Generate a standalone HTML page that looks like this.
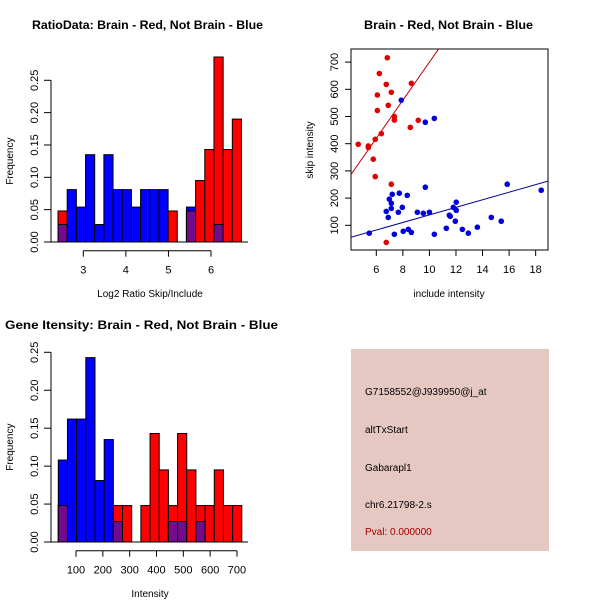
<!DOCTYPE html>
<html><head><meta charset="utf-8"><style>
body{margin:0;background:#fff}
svg{display:block;font-family:"Liberation Sans",sans-serif}
</style></head><body>
<svg id="c" width="600" height="600" viewBox="0 0 600 600"></svg>
<script>
// Panel 1: ratio histogram
const ratioBinStart = 2.406, ratioBinWidth = 0.2155;
const ratioRed  = [0.048,0,0,0,0,0,0,0,0,0,0,0,0.048,0,0.048,0.095,0.143,0.286,0.143,0.19];
const ratioBlue = [0.027,0.081,0.054,0.135,0.027,0.135,0.081,0.081,0.054,0.081,0.081,0.081,0,0,0.054,0,0,0.027,0,0];
const ratioXTicks = [3,4,5,6];
const freqTicks1 = ["0.00","0.05","0.10","0.15","0.20","0.25"];
// Panel 3: intensity histogram
const intBinStart = 34, intBinWidth = 34.2;
const intRed  = [0.048,0,0,0,0,0,0.048,0.048,0,0.048,0.143,0.095,0.048,0.143,0.095,0.048,0.048,0.095,0.048,0.048];
const intBlue = [0.108,0.162,0.162,0.243,0.081,0.135,0.027,0,0,0,0,0,0.027,0.027,0,0.027,0,0,0,0];
const intXTicks = [100,200,300,400,500,600,700];
const freqTicks3 = ["0.00","0.05","0.10","0.15","0.20","0.25"];
// Panel 2: scatter
const redX = [4.64,5.40,5.40,5.77,5.92,6.08,6.08,6.23,5.92,6.38,6.75,6.83,6.90,7.13,7.13,6.75,7.36,7.36,8.64,8.56,9.16];
const redY = [398,392,386,343,279,579,522,658,416,437,618,716,541,589,251,37,500,487,622,460,486];
const blueX = [7.88,9.69,10.37,9.69,5.47,6.75,6.90,6.98,7.13,7.20,7.13,7.36,7.66,7.73,7.96,8.03,8.33,8.41,8.64,9.09,9.54,10.0,10.37,11.27,11.50,11.57,11.80,11.95,12.02,12.02,12.48,12.93,13.61,14.66,15.41,15.86,18.42];
const blueY = [560,479,493,240,71,151,129,196,181,214,162,67,148,218,166,78,210,85,74,148,144,148,67,89,137,133,166,115,185,155,85,71,93,129,115,251,229];
const redFit = [0, 70];
const blueFit = [-0.8, 13.9];
const scatXTicks = [6,8,10,12,14,16,18];
const scatYTicks = [100,200,300,400,500,600,700];

const svg = document.getElementById('c');
const NS = 'http://www.w3.org/2000/svg';
function mk(tag, attrs, parent){const e=document.createElementNS(NS,tag);for(const k in attrs)e.setAttribute(k,attrs[k]);(parent||svg).appendChild(e);return e;}
function txt(s, attrs, parent){const e=mk('text',attrs,parent);e.textContent=s;return e;}

function hist(g, red, blue, binStart, binW, xs, fy, xTicks, yTicks, yTickVals, baseY, axisY, xlab, xlabY, ylabX){
  for(let i=0;i<red.length;i++){
    const x0=xs(binStart+i*binW), x1=xs(binStart+(i+1)*binW);
    if(red[i]>0){const r=mk('rect',{x:x0,y:fy(red[i]),width:x1-x0,height:baseY-fy(red[i]),fill:'#ff0000',stroke:'#000','stroke-width':1},g);
      }
    if(blue[i]>0){const b=mk('rect',{x:x0,y:fy(blue[i]),width:x1-x0,height:baseY-fy(blue[i]),fill:'#0000ff',stroke:'#000','stroke-width':1},g);
      }
    if(red[i]>0&&blue[i]>0){const m=Math.min(red[i],blue[i]);const p=mk('rect',{x:x0,y:fy(m),width:x1-x0,height:baseY-fy(m),fill:'#740a8c',stroke:'#000','stroke-width':1},g);
      }
  }
  mk('line',{x1:51,x2:248,y1:baseY,y2:baseY,stroke:'#000'},g);
  // y axis
  mk('line',{x1:51,x2:51,y1:fy(yTickVals[0]),y2:fy(yTickVals[yTickVals.length-1]),stroke:'#000'},g);
  yTickVals.forEach((v,i)=>{const y=fy(v);mk('line',{x1:44,x2:51,y1:y,y2:y,stroke:'#000'},g);
    const t=txt(yTicks[i],{x:0,y:0,'font-size':11,'text-anchor':'middle',transform:`translate(38,${y}) rotate(-90)`},g);
    });
  mk('line',{x1:xs(xTicks[0]),x2:xs(xTicks[xTicks.length-1]),y1:axisY,y2:axisY,stroke:'#000'},g);
  xTicks.forEach(v=>{const x=xs(v);mk('line',{x1:x,x2:x,y1:axisY,y2:axisY+6,stroke:'#000'},g);
    const t=txt(String(v),{x:x,y:axisY+23,'font-size':11,'text-anchor':'middle'},g);
    });
  const xl=txt(xlab,{x:150,y:xlabY,'font-size':10,'text-anchor':'middle'},g);
  
  const yl=txt('Frequency',{x:0,y:0,'font-size':10,'text-anchor':'middle',transform:`translate(${ylabX},${fy(0.125)}) rotate(-90)`},g);
  
}

// Panel 1
const g1=mk('g',{});
const xs1=v=>83.3+(v-3)*42.57, fy1=v=>242-v*646.8;
hist(g1,ratioRed,ratioBlue,ratioBinStart,ratioBinWidth,xs1,fy1,ratioXTicks,freqTicks1,[0,0.05,0.1,0.15,0.2,0.25],242,250.7,'Log2 Ratio Skip/Include',297,13);
const t1=txt('RatioData: Brain - Red, Not Brain - Blue',{x:32,y:29,'font-size':12,'font-weight':'bold',textLength:231,lengthAdjust:'spacingAndGlyphs'});


// Panel 3
const g3=mk('g',{});
const xs3=v=>76+(v-100)*0.2683, fy3=v=>542-v*758.8;
hist(g3,intRed,intBlue,intBinStart,intBinWidth,xs3,fy3,intXTicks,freqTicks3,[0,0.05,0.1,0.15,0.2,0.25],542,550.7,'Intensity',597,13);
const t3=txt('Gene Itensity: Brain - Red, Not Brain - Blue',{x:5,y:329,'font-size':12,'font-weight':'bold',textLength:273,lengthAdjust:'spacingAndGlyphs'});


// Panel 2 scatter
const g2=mk('g',{});
const sx=v=>376.3+(v-6)*13.28, sy=v=>225.3-(v-100)*0.272;
const X0=4.09,X1=18.93;
const cp=mk('clipPath',{id:'sc'},g2);mk('rect',{x:351,y:49,width:197,height:201},cp);
mk('rect',{x:351,y:49,width:197,height:201,fill:'none',stroke:'#000'},g2);
const rl=mk('line',{x1:sx(X0),y1:sy(redFit[0]+redFit[1]*X0),x2:sx(X1),y2:sy(redFit[0]+redFit[1]*X1),stroke:'#c00000','clip-path':'url(#sc)'},g2);

const bl=mk('line',{x1:sx(X0),y1:sy(blueFit[0]+blueFit[1]*X0),x2:sx(X1),y2:sy(blueFit[0]+blueFit[1]*X1),stroke:'#000099','clip-path':'url(#sc)'},g2);

redX.forEach((v,i)=>{const c=mk('circle',{cx:sx(v),cy:sy(redY[i]),r:2.8,fill:'#e00000'},g2);
  });
blueX.forEach((v,i)=>{const c=mk('circle',{cx:sx(v),cy:sy(blueY[i]),r:2.8,fill:'#0000dd'},g2);
  });
scatXTicks.forEach(v=>{const x=sx(v);mk('line',{x1:x,x2:x,y1:250,y2:256,stroke:'#000'},g2);
  const t=txt(String(v),{x:x,y:273,'font-size':11,'text-anchor':'middle'},g2);
  });
scatYTicks.forEach(v=>{const y=sy(v);mk('line',{x1:345,x2:351,y1:y,y2:y,stroke:'#000'},g2);
  const t=txt(String(v),{x:0,y:0,'font-size':11,'text-anchor':'middle',transform:`translate(338,${y}) rotate(-90)`},g2);
  });
const sxl=txt('include intensity',{x:449,y:297,'font-size':10,'text-anchor':'middle'},g2);

const syl=txt('skip intensity',{x:0,y:0,'font-size':10,'text-anchor':'middle',transform:'translate(313,150) rotate(-90)'},g2);

const t2=txt('Brain - Red, Not Brain - Blue',{x:364,y:29,'font-size':12,'font-weight':'bold',textLength:169,lengthAdjust:'spacingAndGlyphs'});

</script>
<svg width="600" height="600" style="position:absolute;left:0;top:0">
<rect x="351" y="349" width="198" height="202" fill="#e6c8c2"/>
<g font-family="Liberation Sans, sans-serif" font-size="10">
<text x="365" y="395">G7158552@J939950@j_at</text>
<text x="365" y="433">altTxStart</text>
<text x="365" y="471">Gabarapl1</text>
<text x="365" y="508">chr6.21798-2.s</text>
<text x="365" y="535" fill="#a00000">Pval: 0.000000</text>
</g></svg>
</body></html>
